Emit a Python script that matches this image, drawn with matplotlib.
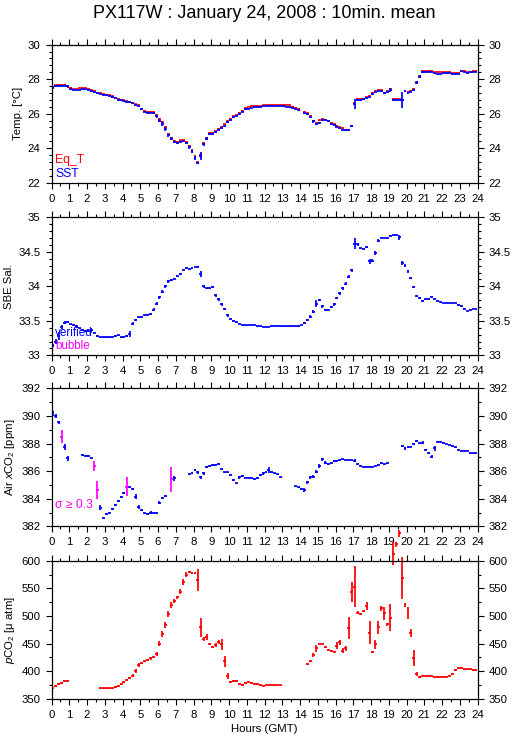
import numpy as np
import matplotlib
matplotlib.use("Agg")
import matplotlib.pyplot as plt
from matplotlib.ticker import MultipleLocator, FormatStrFormatter

plt.rcParams['font.family'] = ['Liberation Sans', 'DejaVu Sans']
plt.rcParams['mathtext.fontset'] = 'custom'
plt.rcParams['mathtext.rm'] = 'Liberation Sans'
plt.rcParams['mathtext.it'] = 'Liberation Sans:italic'

N = None
# ---- 10-minute means, 6 values per hour (hour 0 .. 23) ----
sst = [
    27.53, 27.60, 27.62, 27.62, 27.63, 27.58,
    27.45, 27.38, 27.38, 27.40, 27.42, 27.42,
    27.38, 27.33, 27.26, 27.18, 27.15, 27.10,
    27.07, 27.03, 26.98, 26.89, 26.82, 26.78,
    26.73, 26.70, 26.66, 26.60, 26.50, 26.42,
    26.25, 26.10, 26.06, 26.03, 26.02, 25.85,
    25.60, 25.40, 25.10, 24.75, 24.55, 24.35,
    24.30, 24.38, 24.40, 24.30, 24.05, 23.80,
    23.45, 23.15, 23.55, 24.22, 24.55, 24.82,
    24.85, 24.95, 25.05, 25.15, 25.30, 25.50,
    25.65, 25.80, 25.88, 26.00, 26.12, 26.25,
    26.30, 26.33, 26.37, 26.39, 26.40, 26.42,
    26.43, 26.43, 26.43, 26.43, 26.43, 26.43,
    26.42, 26.40, 26.38, 26.32, 26.26, 26.20,
    N,     26.05, 25.96, 25.80, 25.55, 25.40,
    25.45, 25.62, 25.63, 25.55, 25.40, 25.32,
    25.25, 25.15, 25.08, 25.03, 25.05, 25.28,
    26.56, 26.82, 26.82, 26.84, 26.90, 26.99,
    27.14, 27.28, 27.31, 27.31, 27.18, 27.28,
    27.38, 26.80, 26.80, 26.79, 26.80, 27.30,
    27.22, 27.28, 27.40, 27.80, 28.15, 28.42,
    28.40, 28.40, 28.40, 28.35, 28.33, 28.33,
    28.38, 28.38, 28.36, 28.30, 28.28, 28.32,
    28.45, 28.42, 28.38, 28.40, 28.42, 28.42,
]
sst_sd = [
    0.08, 0.04, 0.02, 0.02, 0.02, 0.08,
    0.05, 0.02, 0.01, 0.01, 0.02, 0.01,
    0.03, 0.05, 0.05, 0.02, 0.03, 0.03,
    0.03, 0.03, 0.05, 0.03, 0.03, 0.02,
    0.02, 0.02, 0.04, 0.05, 0.04, 0.05,
    0.06, 0.03, 0.01, 0.01, 0.03, 0.08,
    0.10, 0.10, 0.10, 0.10, 0.08, 0.06,
    0.05, 0.04, 0.03, 0.06, 0.08, 0.10,
    0.12, 0.05, 0.25, 0.10, 0.10, 0.06,
    0.04, 0.05, 0.05, 0.06, 0.06, 0.06,
    0.05, 0.04, 0.03, 0.05, 0.05, 0.04,
    0.03, 0.02, 0.02, 0.01, 0.01, 0.01,
    0.01, 0.01, 0.01, 0.01, 0.01, 0.01,
    0.01, 0.01, 0.03, 0.04, 0.04, 0.04,
    N,    0.04, 0.05, 0.06, 0.08, 0.05,
    0.06, 0.03, 0.04, 0.05, 0.04, 0.03,
    0.03, 0.03, 0.03, 0.02, 0.02, 0.04,
    0.30, 0.03, 0.02, 0.03, 0.04, 0.04,
    0.04, 0.04, 0.02, 0.02, 0.04, 0.06,
    0.12, 0.04, 0.01, 0.01, 0.45, 0.06,
    0.04, 0.05, 0.06, 0.10, 0.08, 0.05,
    0.02, 0.01, 0.01, 0.02, 0.01, 0.01,
    0.02, 0.01, 0.02, 0.03, 0.02, 0.03,
    0.04, 0.02, 0.02, 0.01, 0.01, 0.01,
]
eq_t = [
    27.57, 27.65, 27.68, 27.66, 27.68, 27.60,
    27.50, 27.45, 27.45, 27.48, 27.50, 27.50,
    27.45, 27.38, 27.30, 27.22, 27.18, 27.12,
    27.10, 27.06, 27.00, 26.93, 26.86, 26.82,
    26.77, 26.74, 26.70, 26.64, 26.56, 26.48,
    26.30, 26.14, 26.12, 26.12, 26.10, 25.95,
    25.68, 25.50, 25.20, 24.82, 24.60, 24.42,
    24.38, 24.45, 24.45, 24.38, 24.12, 23.88,
    23.50, 23.20, 23.60, 24.30, 24.60, 24.88,
    24.90, 25.00, 25.12, 25.22, 25.38, 25.55,
    25.70, 25.85, 25.92, 26.05, 26.18, 26.32,
    26.38, 26.42, 26.42, 26.45, 26.46, 26.48,
    26.48, 26.48, 26.48, 26.48, 26.48, 26.48,
    26.52, 26.52, 26.48, 26.40, 26.35, 26.28,
    N,     26.12, 26.02, 25.88, 25.60, 25.48,
    25.62, 25.70, 25.65, 25.55, 25.45, 25.38,
    25.30, 25.22, 25.15, 25.08, 25.06, 25.30,
    26.60, 26.88, 26.85, 26.88, 26.95, 27.05,
    27.20, 27.30, 27.38, 27.38, 27.22, 27.30,
    27.42, 26.88, 26.88, 26.85, 26.82, 27.32,
    27.26, 27.32, 27.45, 27.82, 28.20, 28.45,
    28.45, 28.45, 28.45, 28.40, 28.40, 28.40,
    28.42, 28.42, 28.42, 28.38, 28.35, 28.38,
    28.48, 28.45, 28.42, 28.42, 28.45, 28.48,
]
eq_t_sd = [
    0.03, 0.03, 0.02, 0.02, 0.02, 0.04,
    0.03, 0.01, 0.01, 0.01, 0.01, 0.01,
    0.02, 0.03, 0.03, 0.02, 0.02, 0.02,
    0.02, 0.02, 0.03, 0.02, 0.02, 0.02,
    0.02, 0.02, 0.02, 0.03, 0.03, 0.03,
    0.04, 0.02, 0.01, 0.01, 0.02, 0.05,
    0.06, 0.06, 0.06, 0.06, 0.05, 0.04,
    0.03, 0.02, 0.02, 0.04, 0.05, 0.06,
    0.08, 0.04, 0.10, 0.06, 0.05, 0.04,
    0.03, 0.03, 0.03, 0.04, 0.04, 0.04,
    0.03, 0.03, 0.02, 0.03, 0.03, 0.03,
    0.02, 0.01, 0.01, 0.01, 0.01, 0.01,
    0.01, 0.01, 0.01, 0.01, 0.01, 0.01,
    0.01, 0.01, 0.02, 0.03, 0.03, 0.03,
    N,    0.03, 0.03, 0.04, 0.05, 0.04,
    0.04, 0.02, 0.03, 0.03, 0.03, 0.02,
    0.02, 0.02, 0.02, 0.01, 0.01, 0.03,
    0.10, 0.02, 0.01, 0.02, 0.03, 0.03,
    0.03, 0.03, 0.01, 0.01, 0.03, 0.04,
    0.05, 0.03, 0.01, 0.01, 0.05, 0.04,
    0.03, 0.03, 0.04, 0.06, 0.05, 0.03,
    0.01, 0.01, 0.01, 0.01, 0.01, 0.01,
    0.01, 0.01, 0.01, 0.02, 0.01, 0.02,
    0.03, 0.01, 0.01, 0.01, 0.01, 0.01,
]
salinity = [
    33.14, 33.20, 33.28, 33.41, 33.47, 33.48,
    33.45, 33.44, 33.42, 33.39, 33.36, 33.35,
    33.35, 33.36, 33.33, 33.28, 33.26, 33.26,
    33.26, 33.26, 33.26, 33.28, 33.29, 33.26,
    33.27, 33.28, 33.31, 33.46, 33.51, 33.55,
    33.56, 33.58, 33.59, 33.60, 33.66, 33.75,
    33.84, 33.92, 34.00, 34.07, 34.09, 34.11,
    34.15, 34.18, 34.24, 34.26, 34.25, 34.26,
    34.28, 34.28, 34.18, 34.00, 33.97, 33.97,
    33.99, 33.87, 33.81, 33.74, 33.67, 33.58,
    33.52, 33.50, 33.48, 33.46, 33.44, 33.44,
    33.44, 33.44, 33.44, 33.42, 33.42, 33.41,
    33.41, 33.41, 33.42, 33.43, 33.43, 33.42,
    33.42, 33.42, 33.42, 33.42, 33.42, 33.42,
    33.44, 33.47, 33.51, 33.56, 33.63, 33.75,
    33.80, 33.71, 33.66, 33.66, 33.70, 33.74,
    33.83, 33.90, 33.97, 34.04, 34.14, 34.23,
    34.62, 34.61, 34.55, 34.54, 34.57, 34.36,
    34.37, 34.48, 34.66, 34.70, 34.70, 34.70,
    34.73, 34.74, 34.75, 34.71, 34.34, 34.30,
    34.22, 34.12, 33.99, 33.86, 33.83, 33.79,
    33.81, 33.82, 33.85, 33.82, 33.79, 33.77,
    33.76, 33.76, 33.76, 33.76, 33.76, 33.73,
    33.71, 33.67, 33.64, 33.66, 33.67, 33.67,
]
salinity_sd = [
    0.02, 0.04, 0.06, 0.03, 0.02, 0.01,
    0.01, 0.01, 0.02, 0.01, 0.01, 0.01,
    0.01, 0.04, 0.01, 0.02, 0.01, 0.005,
    0.005, 0.005, 0.005, 0.01, 0.01, 0.01,
    0.01, 0.01, 0.04, 0.02, 0.01, 0.01,
    0.01, 0.01, 0.01, 0.01, 0.02, 0.02,
    0.02, 0.02, 0.02, 0.02, 0.01, 0.01,
    0.01, 0.01, 0.01, 0.01, 0.005, 0.005,
    0.005, 0.01, 0.04, 0.02, 0.01, 0.01,
    0.01, 0.02, 0.02, 0.02, 0.02, 0.02,
    0.01, 0.01, 0.005, 0.005, 0.005, 0.005,
    0.005, 0.005, 0.005, 0.005, 0.005, 0.005,
    0.005, 0.005, 0.005, 0.005, 0.005, 0.005,
    0.005, 0.005, 0.005, 0.005, 0.005, 0.005,
    0.005, 0.01, 0.01, 0.02, 0.02, 0.05,
    0.02, 0.02, 0.01, 0.01, 0.01, 0.02,
    0.02, 0.02, 0.02, 0.02, 0.02, 0.02,
    0.08, 0.02, 0.01, 0.01, 0.01, 0.03,
    0.02, 0.03, 0.02, 0.005, 0.005, 0.005,
    0.01, 0.01, 0.01, 0.04, 0.03, 0.02,
    0.02, 0.02, 0.02, 0.02, 0.01, 0.01,
    0.01, 0.01, 0.01, 0.01, 0.005, 0.005,
    0.005, 0.005, 0.005, 0.005, 0.005, 0.01,
    0.01, 0.01, 0.005, 0.005, 0.005, 0.005,
]
air_xco2 = [
    390.19, 390.00, 389.54, 388.50, 387.77, 386.93,
    N,      N,      N,      N,      387.17, 387.12,
    387.10, 386.93, 386.40, 384.63, 383.35, 382.63,
    382.89, 383.00, 383.23, 383.55, 383.83, 384.10,
    384.40, 384.87, 384.83, 384.70, 384.15, 383.38,
    383.18, 382.94, 382.89, 383.00, 382.99, 382.94,
    383.71, 384.03, 384.20, N,      385.40, 385.48,
    N,      N,      N,      N,      385.77, 385.84,
    386.08, 385.91, 385.55, 385.84, 386.28, 386.37,
    386.44, 386.47, 386.52, 386.15, 385.91, 385.91,
    385.72, 385.36, 385.12, 385.55, 385.65, 385.53,
    385.53, 385.53, 385.43, 385.50, 385.72, 385.84,
    385.91, 386.08, 385.96, 385.84, 385.77, 385.55,
    N,      N,      N,      N,      384.92, 384.83,
    384.70, 384.63, 385.19, 385.55, 385.60, 385.96,
    386.37, 386.86, 386.61, 386.49, 386.61, 386.73,
    386.76, 386.81, 386.86, 386.81, 386.81, 386.81,
    386.76, 386.49, 386.40, 386.32, 386.32, 386.32,
    386.28, 386.40, 386.44, 386.57, 386.49, 386.57,
    N,      N,      N,      N,      387.82, 387.65,
    387.72, 387.77, 387.97, 388.18, 388.06, 388.06,
    387.53, 387.34, 387.05, 387.65, 388.14, 388.14,
    388.06, 387.97, 387.89, 387.85, 387.72, 387.53,
    387.46, 387.48, 387.46, 387.29, 387.29, 387.29,
]
air_xco2_sd = [
    0.20, 0.15, 0.10, 0.48, 0.22, 0.20,
    N,    N,    N,    N,    0.05, 0.05,
    0.05, 0.08, 0.36, 0.66, 0.20, 0.05,
    0.05, 0.05, 0.08, 0.08, 0.08, 0.08,
    0.08, 0.70, 0.05, 0.08, 0.20, 0.15,
    0.05, 0.05, 0.05, 0.08, 0.05, 0.05,
    0.12, 0.08, 0.05, N,    0.90, 0.20,
    N,    N,    N,    N,    0.05, 0.05,
    0.05, 0.10, 0.10, 0.12, 0.08, 0.05,
    0.05, 0.05, 0.05, 0.05, 0.05, 0.05,
    0.05, 0.10, 0.05, 0.10, 0.08, 0.03,
    0.03, 0.03, 0.05, 0.05, 0.10, 0.10,
    0.05, 0.20, 0.08, 0.05, 0.05, 0.05,
    N,    N,    N,    N,    0.03, 0.03,
    0.05, 0.15, 0.12, 0.10, 0.10, 0.12,
    0.12, 0.12, 0.10, 0.08, 0.05, 0.05,
    0.05, 0.05, 0.05, 0.03, 0.03, 0.03,
    0.10, 0.05, 0.03, 0.03, 0.03, 0.03,
    0.03, 0.05, 0.05, 0.03, 0.03, 0.03,
    N,    N,    N,    N,    0.10, 0.10,
    0.05, 0.05, 0.08, 0.10, 0.08, 0.10,
    0.10, 0.08, 0.10, 0.20, 0.05, 0.03,
    0.03, 0.03, 0.03, 0.05, 0.05, 0.03,
    0.03, 0.03, 0.03, 0.03, 0.03, 0.03,
]
pco2 = [
    370.0, 373.0, 376.0, 379.0, 382.6, 382.6,
    N,     N,     N,     N,     N,     N,
    N,     N,     N,     N,     368.7, 368.7,
    368.7, 368.7, 368.7, 371.7, 373.6, 376.6,
    380.8, 383.8, 386.8, 391.7, 400.0, 411.0,
    415.0, 417.6, 420.0, 423.0, 426.0, 431.0,
    450.0, 467.0, 483.5, 503.0, 520.0, 527.0,
    533.6, 544.0, 561.0, 575.0, 579.0, 577.0,
    577.0, 565.0, 479.0, 458.0, 462.0, 448.4,
    443.0, 447.0, 452.6, 449.0, 418.0, 391.0,
    379.6, 382.0, 382.0, 376.6, 375.0, 379.0,
    379.6, 378.0, 376.6, 376.6, 375.0, 373.6,
    375.0, 375.0, 375.0, 375.0, 375.0, 375.0,
    N,     N,     N,     N,     N,     N,
    N,     N,     412.8, 419.0, 429.0, 441.0,
    450.0, 450.0, 443.0, 438.0, 436.6, 435.0,
    446.0, 452.0, 437.0, 441.0, 478.6, 544.0,
    553.0, 506.0, 503.0, 509.4, 518.0, 469.6,
    435.0, 448.4, 479.0, 513.6, 504.6, 484.7,
    497.0, 613.0, 629.6, 649.5, 569.0, 520.0,
    506.0, 469.6, 424.0, 395.0, 390.0, 391.7,
    391.7, 391.7, 391.0, 390.0, 390.0, 390.0,
    390.0, 390.0, 391.7, 395.0, 402.0, 405.0,
    405.0, 403.0, 403.0, 403.0, 402.0, 402.0,
]
pco2_sd = [
    1.0, 1.0, 2.0, 1.5, 1.0, 0.5,
    N,   N,   N,   N,   N,   N,
    N,   N,   N,   N,   0.5, 0.5,
    0.5, 0.5, 0.5, 1.5, 1.5, 2.0,
    2.0, 2.0, 2.0, 2.5, 3.0, 4.0,
    2.0, 1.5, 1.5, 2.0, 2.0, 4.0,
    5.0, 5.0, 5.0, 5.0, 5.0, 3.0,
    3.0, 4.0, 5.0, 4.0, 2.0, 1.0,
    1.0, 20.0, 17.0, 3.0, 5.0, 2.0,
    2.0, 4.0, 3.0, 10.0, 10.0, 5.0,
    2.0, 2.0, 1.5, 2.0, 2.0, 1.5,
    1.5, 1.0, 1.0, 1.0, 1.0, 1.0,
    0.5, 0.5, 0.5, 0.5, 0.5, 0.5,
    N,   N,   N,   N,   N,   N,
    N,   N,   1.5, 2.0, 4.0, 6.0,
    1.5, 1.0, 2.0, 2.0, 1.5, 1.0,
    6.0, 4.0, 5.0, 5.0, 20.0, 18.0,
    37.0, 3.0, 2.0, 2.0, 7.0, 21.0,
    2.0, 8.0, 12.0, 4.0, 12.0, 3.0,
    25.0, 20.0, 5.0, 7.0, 38.0, 3.0,
    11.0, 7.0, 15.0, 4.0, 2.0, 1.0,
    1.0, 1.0, 1.0, 1.0, 1.0, 1.0,
    1.0, 1.0, 1.0, 2.0, 2.0, 1.0,
    1.0, 1.0, 1.0, 1.0, 1.0, 1.0,
]
hour_ticks = list(range(0, 25))
title = "PX117W : January 24, 2008 : 10min. mean"


def arr(v):
    return np.array([np.nan if x is None else x for x in v], dtype=float)


n_bins = len(sst)
bin_hours = np.arange(n_bins) / 6.0 + 1.0 / 12.0   # centre of each 10-min bin
half_bin = 1.0 / 12.0

W, H = 515, 739
fig = plt.figure(figsize=(W / 100, H / 100), dpi=100)

left = 51.5 / W
width = 426 / W
panel_tops = [44.7, 217.3, 388.3, 560.7]
panel_h = 138.0

RED = '#ff0000'
BLUE = '#0000ff'
MAG = '#ff00ff'
LW = 1.25
FS = 8.2

axes = []
for top in panel_tops:
    ax = fig.add_axes([left, 1 - (top + panel_h) / H, width, panel_h / H])
    axes.append(ax)


def bars(ax, y, sd, color, clip=True):
    y = arr(y)
    sd = arr(sd)
    c = ax.errorbar(bin_hours, y, xerr=half_bin, yerr=sd, fmt='none',
                    ecolor=color, elinewidth=LW, capsize=0)
    if not clip:
        for coll in c.lines[2]:
            coll.set_clip_on(False)
    return c


# Panel 1: temperatures
ax = axes[0]
bars(ax, eq_t, eq_t_sd, RED)
bars(ax, sst, sst_sd, BLUE)
ax.set_ylim(22, 30)
ax.yaxis.set_major_locator(MultipleLocator(2))
ax.yaxis.set_minor_locator(MultipleLocator(0.4))
ax.set_ylabel('Temp. [°C]', fontsize=FS)
ax.text(0.008, 0.143, 'Eq_T', color=RED, transform=ax.transAxes, fontsize=FS + 0.5)
ax.text(0.008, 0.041, 'SST', color=BLUE, transform=ax.transAxes, fontsize=FS + 0.5)

# Panel 2: salinity
ax = axes[1]
bars(ax, salinity, salinity_sd, BLUE)
ax.set_ylim(33, 35)
ax.yaxis.set_major_locator(MultipleLocator(0.5))
ax.yaxis.set_minor_locator(MultipleLocator(0.1))
ax.set_ylabel('SBE Sal.', fontsize=FS)
ax.text(0.008, 0.14, 'verified', color=BLUE, transform=ax.transAxes, fontsize=FS + 0.2)
ax.text(0.008, 0.045, 'bubble', color=MAG, transform=ax.transAxes, fontsize=FS + 0.2)

# Panel 3: air xCO2
ax = axes[2]
xa = arr(air_xco2)
xs = arr(air_xco2_sd)
hi = xs >= 0.3
ax.errorbar(bin_hours[~hi], xa[~hi], xerr=half_bin, yerr=xs[~hi], fmt='none',
            ecolor=BLUE, elinewidth=LW, capsize=0)
ax.errorbar(bin_hours[hi], xa[hi], xerr=half_bin, yerr=xs[hi], fmt='none',
            ecolor=MAG, elinewidth=LW, capsize=0)
ax.set_ylim(382, 392)
ax.yaxis.set_major_locator(MultipleLocator(2))
ax.yaxis.set_minor_locator(MultipleLocator(1))
ax.set_ylabel('Air $x$CO$_2$ [ppm]', fontsize=FS)
ax.text(0.008, 0.13, 'σ ≥ 0.3', color=MAG, transform=ax.transAxes, fontsize=FS + 0.5)

# Panel 4: pCO2
ax = axes[3]
bars(ax, pco2, pco2_sd, RED, clip=False)
ax.set_ylim(350, 600)
ax.yaxis.set_major_locator(MultipleLocator(50))
ax.yaxis.set_minor_locator(MultipleLocator(25))
ax.set_ylabel('$p$CO$_2$ [μ atm]', fontsize=FS)
ax.set_xlabel('Hours (GMT)', fontsize=FS, labelpad=3)

for ax in axes:
    ax.set_xlim(0, 24)
    ax.set_xticks(hour_ticks)
    ax.xaxis.set_minor_locator(MultipleLocator(0.5))
    ax.yaxis.set_major_formatter(FormatStrFormatter('%g'))
    ax.tick_params(which='both', direction='out', top=True, right=True,
                   labelright=True, labelsize=FS, width=0.8, pad=4)
    ax.tick_params(which='major', length=4)
    ax.tick_params(which='minor', length=2.3)
    for s in ax.spines.values():
        s.set_linewidth(0.9)
    ax.yaxis.labelpad = 3

fig.text(0.5 * (51.5 + 477.5) / W, 1 - 18 / H, title, ha='center', va='baseline',
         fontsize=13)

fig.savefig('out.png', dpi=100)
